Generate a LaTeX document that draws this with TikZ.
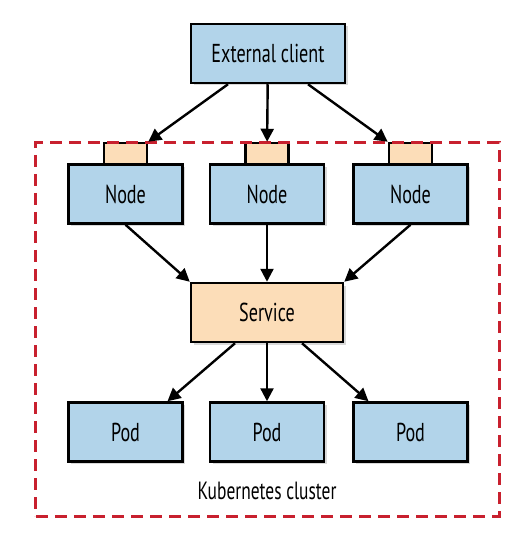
\documentclass[tikz,border=0pt]{standalone}
\usepackage{fontspec}
\setmainfont{PT Sans}[FakeStretch=0.7]
\usetikzlibrary{arrows.meta,shadows}
\definecolor{boxblue}{RGB}{178,212,234}
\definecolor{peach}{RGB}{252,221,184}
\definecolor{clusterred}{RGB}{200,32,46}

\begin{document}
\begin{tikzpicture}[x=1bp,y=-1bp,
  box/.style={draw,line width=2.5bp,fill=boxblue,minimum width=114bp,minimum height=59bp,inner sep=0pt,
    font=\fontsize{26}{28}\selectfont,drop shadow={shadow xshift=2.5bp,shadow yshift=-2.5bp,opacity=0.3}},
  tab/.style={draw,line width=2.5bp,fill=peach,minimum width=43bp,minimum height=21bp,inner sep=0pt},
  arr/.style={line width=2.4bp,-{Triangle[length=13bp,width=13bp]}},
  lab/.style={font=\fontsize{25}{27}\selectfont}]
\useasboundingbox (0,0) rectangle (528,533);
\node[box,minimum width=154bp] (ext) at (268,53.5) {External client};
\foreach \i/\x in {1/125.5,2/267,3/410.5} {
  \node[tab] (t\i) at (\x,153.5) {};
  \node[box] (n\i) at (\x,194) {Node};
  \node[box] (p\i) at (\x,432) {Pod};
}
\node[box,fill=peach,minimum width=152bp] (svc) at (267,312.5) {Service};
\node[draw=clusterred,line width=3bp,dash pattern=on 12bp off 7bp,minimum width=463bp,minimum height=373bp,inner sep=0pt] (cluster) at (267.5,329.5) {};
\node[lab] (clusterlab) at (267,491) {Kubernetes cluster};
% client to node ports
\draw[arr] ([xshift=-40bp]ext.south) -- (t1.north east);
\draw[arr] (ext) -- (t2);
\draw[arr] ([xshift=40bp]ext.south) -- (t3.north west);
% nodes to service
\draw[arr] (n1.south) -- (svc.north west);
\draw[arr] (n2) -- (svc);
\draw[arr] (n3.south) -- (svc.north east);
% service to pods
\draw[arr] ([xshift=-32bp]svc.south) -- ([xshift=42bp]p1.north);
\draw[arr] (svc) -- (p2);
\draw[arr] ([xshift=35bp]svc.south) -- ([xshift=-42bp]p3.north);
\end{tikzpicture}
\end{document}
